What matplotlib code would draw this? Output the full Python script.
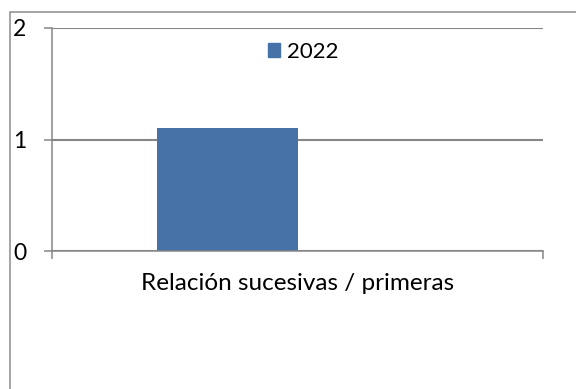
import matplotlib
matplotlib.use('Agg')
import matplotlib.pyplot as plt
from matplotlib.patches import Patch, Rectangle

# chart data
categories = ['Relación sucesivas / primeras']
series_names = ['2022']
series_values = [1.1]
y_ticks = [0, 1, 2]

bar_color = '#4672a8'
line_color = '#868686'

plt.rcParams['font.family'] = ['Lato', 'DejaVu Sans']

fig = plt.figure(figsize=(5.76, 3.89), dpi=100)
ax = fig.add_axes([52 / 576, 1 - 251 / 389, 491 / 576, 223 / 389])

# two-slot grouped layout (gap width 150%), only the first series has data
bar_w = 1 / 3.5
ax.bar(0 - bar_w / 2, series_values[0], width=bar_w, color=bar_color,
       label=series_names[0], zorder=2)

ax.set_xlim(-0.5, 0.5)
ax.set_ylim(0, 2)
ax.set_yticks(y_ticks)
ax.yaxis.grid(True, color=line_color, lw=1.5)
ax.set_axisbelow(True)

for side in ('top', 'right'):
    ax.spines[side].set_visible(False)
for side in ('left', 'bottom'):
    ax.spines[side].set_color(line_color)
    ax.spines[side].set_linewidth(1.1)

# category boundaries get tick marks, the label sits in the middle
ax.set_xticks([-0.5, 0.5])
ax.set_xticklabels([])
ax.set_xticks([0], labels=categories, minor=True)
ax.tick_params(axis='x', which='major', length=6, width=1.1, color=line_color)
ax.tick_params(axis='x', which='minor', length=0, pad=16, labelsize=17.5)
ax.tick_params(axis='y', length=6, width=1.1, color=line_color, pad=12.5, labelsize=16.5)

fig.legend(handles=[Patch(color=bar_color, label=series_names[0])],
           loc='center', bbox_to_anchor=(303 / 576, 1 - 52 / 389),
           frameon=False, fontsize=16, handlelength=0.55, handleheight=0.55,
           handletextpad=0.3)

# outer chart border
fig.patches.append(Rectangle((9.5 / 576, -0.5), 2, 0.5 + 1 - 12 / 389,
                             transform=fig.transFigure, fill=False,
                             edgecolor='#8c8c8c', lw=1.1))

fig.savefig('out.png', dpi=100)
